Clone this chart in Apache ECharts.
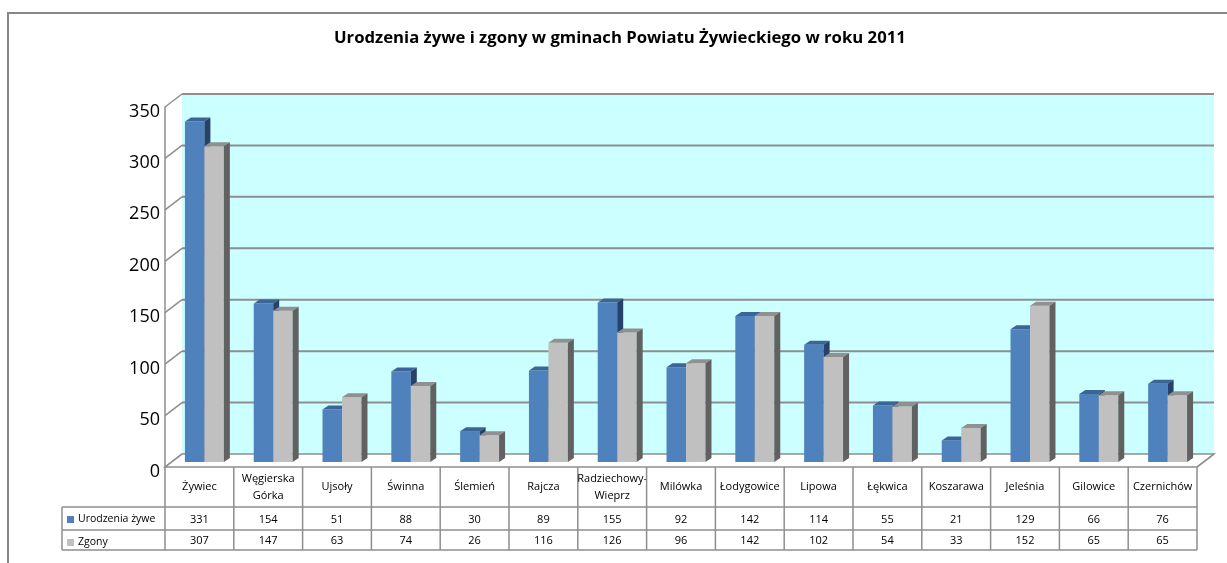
<!DOCTYPE html>
<html>
<head>
<meta charset="utf-8">
<script src="https://cdn.jsdelivr.net/npm/echarts@6/dist/echarts.min.js"></script>
<style>
  html, body { margin: 0; padding: 0; background: #fff; }
  #chart { width: 1227px; height: 563px; }
</style>
</head>
<body>
<div id="chart"></div>
<script>
var categories = ['Żywiec', 'Węgierska Górka', 'Ujsoły', 'Świnna', 'Ślemień', 'Rajcza', 'Radziechowy-Wieprz',
  'Milówka', 'Łodygowice', 'Lipowa', 'Łękwica', 'Koszarawa', 'Jeleśnia', 'Gilowice', 'Czernichów'];
var urodzenia = [331, 154, 51, 88, 30, 89, 155, 92, 142, 114, 55, 21, 129, 66, 76];
var zgony = [307, 147, 63, 74, 26, 116, 126, 96, 142, 102, 54, 33, 152, 65, 65];
var seriesNames = ['Urodzenia żywe', 'Zgony'];
var yMax = 350, yStep = 50;

var FONT = '"Open Sans", "DejaVu Sans", sans-serif';
var lineCol = '#8e8e8e';
// depth of the 3D box
var DX = 17, DY = -13;

var chart = echarts.init(document.getElementById('chart'));

// faces: front, top, side
var faces = [
  ['#4f81bd', '#3b6497', '#27426a'],
  ['#c0c0c0', '#909090', '#616161']
];

function barItem(si) {
  return function (params, api) {
    var i = api.value(0), v = api.value(1);
    var base = api.coord([i, 0]);
    var top = api.coord([i, v]);
    var band = api.size([1, 0])[0];
    var w = band * 0.283;
    var sx = 5, sy = -5, d = 6, dh = -4;
    var x0 = base[0] + sx - (si === 0 ? w : 0);
    var yb = base[1] + sy, yt = top[1] + sy;
    var c = faces[si];
    return {
      type: 'group',
      children: [
        { type: 'rect', shape: { x: x0, y: yt, width: w, height: yb - yt }, style: { fill: c[0] } },
        { type: 'polygon', shape: { points: [[x0, yt], [x0 + w, yt], [x0 + w + d, yt + dh], [x0 + d, yt + dh]] }, style: { fill: c[1] } },
        { type: 'polygon', shape: { points: [[x0 + w, yt], [x0 + w + d, yt + dh], [x0 + w + d, yb + dh], [x0 + w, yb]] }, style: { fill: c[2] } }
      ]
    };
  };
}

function wallItem(params, api) {
  var cs = params.coordSys;
  var x1 = cs.x, x2 = cs.x + cs.width;
  var yTop = api.coord([0, yMax])[1], yZero = api.coord([0, 0])[1];
  var kids = [];
  kids.push({ type: 'rect', shape: { x: x1 + DX, y: yTop + DY, width: x2 - x1, height: yZero - yTop },
    style: { fill: '#ccffff' } });
  kids.push({ type: 'polygon', shape: { points: [[x1, yZero], [x1 + DX, yZero + DY], [x2 + DX, yZero + DY], [x2, yZero]] },
    style: { fill: '#ffffff', stroke: lineCol, lineWidth: 1.5 } });
  for (var t = 0; t <= yMax; t += yStep) {
    var y = api.coord([0, t])[1];
    kids.push({ type: 'line', shape: { x1: x1, y1: y, x2: x1 + DX, y2: y + DY }, style: { stroke: lineCol, lineWidth: 1.5 } });
    if (t > 0) {
      kids.push({ type: 'line', shape: { x1: x1 + DX, y1: y + DY, x2: x2 + DX, y2: y + DY }, style: { stroke: lineCol, lineWidth: 2 } });
    }
  }
  return { type: 'group', children: kids };
}

function label(name) {
  return name.replace(' ', '\n').replace('-', '-\n');
}

function tableItem(params, api) {
  var i = api.value(0);
  var c = api.coord([i, 0]);
  var band = api.size([1, 0])[0];
  var l = c[0] - band / 2, r = c[0] + band / 2;
  var y0 = c[1], y1 = y0 + 40, y2 = y0 + 63, y3 = y0 + 83;
  var st = { stroke: lineCol, lineWidth: 1.5 };
  var font = '11px ' + FONT;
  var kids = [
    { type: 'line', shape: { x1: l, y1: y0, x2: l, y2: y3 }, style: st },
    { type: 'line', shape: { x1: l, y1: y1, x2: r, y2: y1 }, style: st },
    { type: 'line', shape: { x1: l, y1: y2, x2: r, y2: y2 }, style: st },
    { type: 'line', shape: { x1: l, y1: y3, x2: r, y2: y3 }, style: st },
    { type: 'text', style: { text: label(categories[i]), x: c[0], y: (y0 + y1) / 2, align: 'center', verticalAlign: 'middle', font: font, lineHeight: 17, fill: '#000' } },
    { type: 'text', style: { text: String(api.value(2)), x: c[0], y: (y1 + y2) / 2 + 1, align: 'center', verticalAlign: 'middle', font: font, fill: '#000' } },
    { type: 'text', style: { text: String(api.value(3)), x: c[0], y: (y2 + y3) / 2 + 1, align: 'center', verticalAlign: 'middle', font: font, fill: '#000' } }
  ];
  if (i === categories.length - 1) {
    kids.push({ type: 'line', shape: { x1: r, y1: y0, x2: r, y2: y3 }, style: st });
    kids.push({ type: 'line', shape: { x1: r, y1: y0, x2: r + DX, y2: y0 + DY }, style: st });
  }
  if (i === 0) {
    var lx = 62;
    kids.push({ type: 'line', shape: { x1: lx, y1: y1, x2: l, y2: y1 }, style: st });
    kids.push({ type: 'line', shape: { x1: lx, y1: y2, x2: l, y2: y2 }, style: st });
    kids.push({ type: 'line', shape: { x1: lx, y1: y3, x2: l, y2: y3 }, style: st });
    kids.push({ type: 'line', shape: { x1: lx, y1: y1, x2: lx, y2: y3 }, style: st });
  }
  return { type: 'group', children: kids };
}

var option = {
  animation: false,
  textStyle: { fontFamily: FONT },
  title: {
    text: 'Urodzenia żywe i zgony w gminach Powiatu Żywieckiego w roku 2011',
    left: 329,
    top: 25,
    textStyle: { fontSize: 16.7, fontWeight: 'bold', color: '#000', fontFamily: FONT }
  },
  legend: {
    data: seriesNames,
    orient: 'vertical',
    left: 67,
    top: 514,
    padding: 0,
    itemWidth: 7,
    itemHeight: 7,
    itemGap: 12,
    icon: 'rect',
    selectedMode: false,
    textStyle: { fontSize: 10.5, color: '#000', padding: [0, 0, 0, -1] }
  },
  graphic: [{
    type: 'rect',
    shape: { x: 8, y: 13, width: 1400, height: 700 },
    style: { fill: 'none', stroke: '#878787', lineWidth: 2 },
    silent: true
  }],
  grid: { left: 165, right: 30, top: 107, bottom: 96 },
  xAxis: {
    type: 'category',
    data: categories,
    axisLine: { show: false },
    axisTick: { show: false },
    axisLabel: { show: false }
  },
  yAxis: {
    type: 'value',
    min: 0,
    max: yMax,
    interval: yStep,
    axisLine: { show: true, lineStyle: { color: lineCol, width: 1.5 } },
    axisTick: { show: false },
    splitLine: { show: false },
    axisLabel: {
      margin: 5,
      formatter: '{t|{value}}',
      rich: { t: { fontSize: 18, color: '#000', fontFamily: FONT, padding: [9, 0, 0, 0] } }
    }
  },
  series: [
    {
      type: 'custom', name: 'wall', silent: true, z: 1,
      renderItem: wallItem,
      encode: { x: 0, y: 1 },
      data: [[0, 0]]
    },
    {
      type: 'custom', name: seriesNames[0], z: 2,
      itemStyle: { color: faces[0][0] },
      renderItem: barItem(0),
      encode: { x: 0, y: 1 },
      data: urodzenia.map(function (v, i) { return [i, v]; })
    },
    {
      type: 'custom', name: seriesNames[1], z: 3,
      itemStyle: { color: faces[1][0] },
      renderItem: barItem(1),
      encode: { x: 0, y: 1 },
      data: zgony.map(function (v, i) { return [i, v]; })
    },
    {
      type: 'custom', name: 'table', silent: true, z: 4,
      renderItem: tableItem,
      encode: { x: 0, y: 1 },
      data: categories.map(function (c, i) { return [i, 0, urodzenia[i], zgony[i]]; })
    }
  ]
};
chart.setOption(option);
</script>
</body>
</html>
